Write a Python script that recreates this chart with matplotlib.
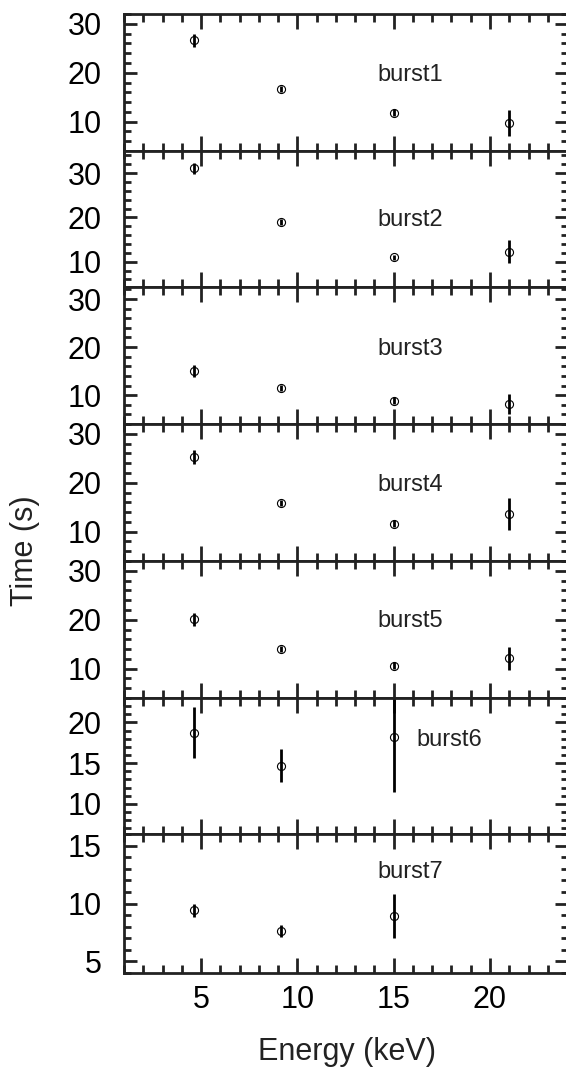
import matplotlib
matplotlib.use('Agg')
import matplotlib.pyplot as plt
from matplotlib.ticker import MultipleLocator

plt.rcParams['font.family'] = ['Liberation Sans', 'DejaVu Sans']

energy = [4.65, 9.15, 15.0, 21.0]

names = ['burst1', 'burst2', 'burst3', 'burst4', 'burst5', 'burst6', 'burst7']

t_burst1 = [26.6, 16.6, 11.8, 9.7]
e_burst1 = [1.4, 0.6, 0.7, 2.6]
t_burst2 = [31.1, 19.0, 11.0, 12.3]
e_burst2 = [1.3, 0.6, 0.6, 2.6]
t_burst3 = [15.0, 11.5, 8.85, 8.2]
e_burst3 = [1.3, 0.6, 0.7, 2.1]
t_burst4 = [25.2, 15.85, 11.6, 13.6]
e_burst4 = [1.45, 0.6, 0.7, 3.3]
t_burst5 = [20.1, 14.0, 10.6, 12.1]
e_burst5 = [1.3, 0.6, 0.7, 2.3]
t_burst6 = [18.75, 14.7, 18.15]
e_burst6 = [3.1, 2.0, 6.7]
t_burst7 = [9.4, 7.63, 8.96]
e_burst7 = [0.53, 0.5, 1.9]

times = [t_burst1, t_burst2, t_burst3, t_burst4, t_burst5, t_burst6, t_burst7]
errs = [e_burst1, e_burst2, e_burst3, e_burst4, e_burst5, e_burst6, e_burst7]

# layout (pixels of the 566x1075 picture)
W, H = 566, 1075
edges = [14, 151, 287, 424, 561, 698, 834, 973]
left_px, right_px = 124, 568
ylims = [(4, 32), (4.3, 35), (4, 32.5), (4, 32), (4, 32), (6.3, 23), (4, 16)]
ymajor = [10, 10, 10, 10, 10, 5, 5]
yminor = [2, 2, 2, 2, 2, 1, 1]
label_pos = [(14.17, 19.45), (14.17, 19.5), (14.17, 19.5), (14.17, 19.5),
             (14.17, 19.7), (16.2, 17.8), (14.17, 12.7)]

fig = plt.figure(figsize=(W / 100, H / 100), dpi=100)

for i in range(7):
    top, bot = edges[i], edges[i + 1]
    ax = fig.add_axes([left_px / W, 1 - bot / H, (right_px - left_px) / W, (bot - top) / H])
    n = len(times[i])
    ax.errorbar(energy[:n], times[i], yerr=errs[i], fmt='o', color='black',
                mfc='none', mec='black', ms=5.8, mew=0.8, elinewidth=2.0,
                capsize=0)
    ax.text(label_pos[i][0], label_pos[i][1], names[i], fontsize=17,
            va='center', ha='left', color='#222222')

    ax.set_xlim(1, 24.05)
    ax.set_ylim(*ylims[i])
    ax.xaxis.set_major_locator(MultipleLocator(5))
    ax.xaxis.set_minor_locator(MultipleLocator(1))
    ax.yaxis.set_major_locator(MultipleLocator(ymajor[i]))
    ax.yaxis.set_minor_locator(MultipleLocator(yminor[i]))

    ax.tick_params(axis='both', which='both', direction='in', top=True,
                   right=True, width=2.0, color='#222222')
    ax.tick_params(axis='x', which='major', length=11, labelsize=22, pad=9)
    ax.tick_params(axis='x', which='minor', length=5.5)
    ax.tick_params(axis='y', which='major', length=9.5, labelsize=22, pad=16)
    ax.tick_params(axis='y', which='minor', length=4.8)
    for sp in ax.spines.values():
        sp.set_linewidth(2.0)
        sp.set_color('#222222')
    if i < 6:
        ax.set_xticklabels([])

fig.text(24.7 / W, 1 - 551 / H, 'Time (s)', rotation=90, fontsize=22,
         ha='center', va='center', color='#222222')
fig.text(347 / W, 1 - 1052 / H, 'Energy (keV)', fontsize=22,
         ha='center', va='center', color='#222222')

fig.savefig('out.png', dpi=100)
